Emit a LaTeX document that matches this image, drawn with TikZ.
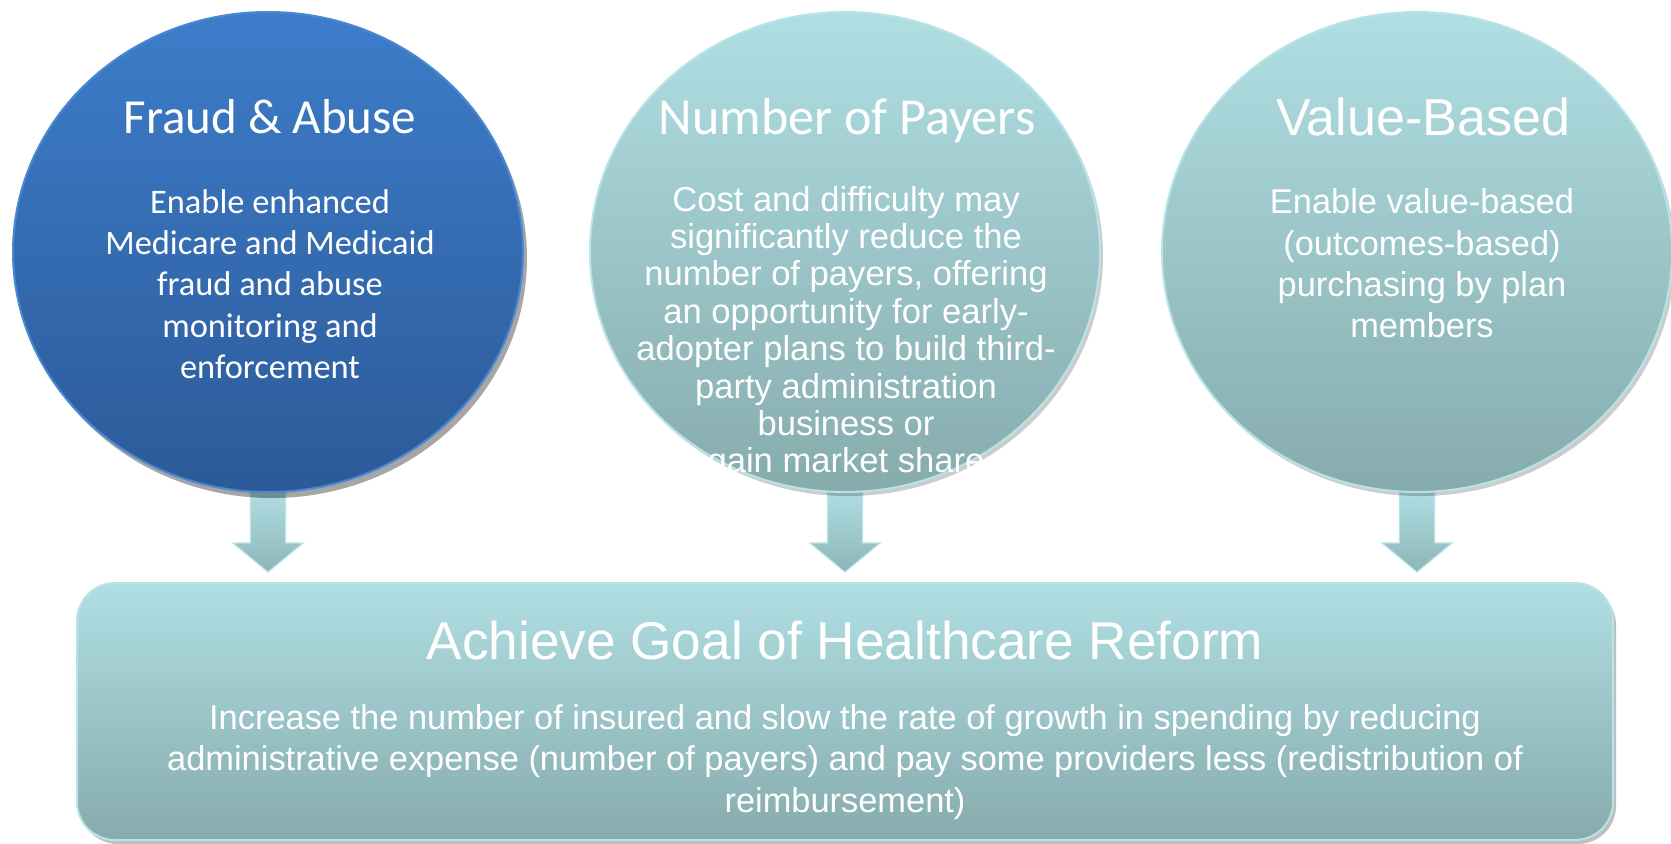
\documentclass[tikz,border=0pt]{standalone}
\usepackage{fontspec}
\setmainfont{Liberation Sans}
\newfontfamily\calfont{Carlito}
\newfontfamily\arfont{Liberation Sans}
\usetikzlibrary{shapes.geometric,shadows,calc,backgrounds}
\definecolor{blueTop}{HTML}{3D7DCA}
\definecolor{blueBot}{HTML}{2C5A98}
\definecolor{blueRim}{HTML}{4A88D2}
\definecolor{cyTop}{HTML}{B0DFE3}
\definecolor{cyBot}{HTML}{86ABAD}
\definecolor{cyRim}{HTML}{B8E3E7}
\definecolor{arBot}{HTML}{8DB5B8}
\tikzset{
  bubble/.style={ellipse, minimum width=255pt, minimum height=240pt, inner sep=0pt, line width=1pt},
  bluebubble/.style={bubble, top color=blueTop, bottom color=blueBot, draw=blueRim,
    drop shadow={shadow xshift=2pt, shadow yshift=-3pt, opacity=.35, fill=black}},
  tealbubble/.style={bubble, top color=cyTop, bottom color=cyBot, draw=cyRim,
    drop shadow={shadow xshift=1.5pt, shadow yshift=-2pt, opacity=.2, fill=black}},
  goalbox/.style={rectangle, rounded corners=19pt, minimum width=768pt, minimum height=128.5pt,
    inner sep=0pt, top color=cyTop, bottom color=cyBot, draw=cyRim, line width=1pt,
    drop shadow={shadow xshift=1.5pt, shadow yshift=-2pt, opacity=.25, fill=black}},
  blockarrow/.style={top color=cyTop, bottom color=arBot, draw=cyRim, line width=0.6pt},
  txt/.style={text=white, align=center, inner sep=0pt},
  caltitle/.style={txt, font=\calfont\fontsize{24.5}{29}\selectfont},
  caltitlebig/.style={txt, font=\calfont\fontsize{26}{31}\selectfont},
  artitle/.style={txt, font=\arfont\fontsize{26}{31}\selectfont},
  calbody/.style={txt, font=\calfont\fontsize{17.2}{20.7}\selectfont},
  arbody/.style={txt, font=\arfont\fontsize{17.2}{20.7}\selectfont},
  arbodytight/.style={txt, font=\arfont\fontsize{17.3}{18.7}\selectfont},
}
\begin{document}
\begin{tikzpicture}[x=0.5pt,y=-0.5pt]
\useasboundingbox (0,0) rectangle (1671,843);
% circles
\node[bluebubble] (c1) at (268,252) {};
\node[tealbubble] (c2) at (845,252) {};
\node[tealbubble] (c3) at (1417,252) {};
% goal box
\node[goalbox] (box) at (845,711.5) {};
% arrows (behind the circles)
\begin{pgfonlayer}{background}
\foreach \c in {c1,c2,c3}{
  \path[blockarrow]
    ($(\c.south)+(-17.5,-4)$) -- ($(\c.south)+(17.5,-4)$) -- ($(\c.south)+(17.5,50)$)
    -- ($(\c.south)+(35,50)$) -- ($(\c.south |- box.north)+(0,-10)$)
    -- ($(\c.south)+(-35,50)$) -- ($(\c.south)+(-17.5,50)$) -- cycle;
}
\end{pgfonlayer}
% texts
\node[caltitle] (t1) at (270,117) {Fraud \& Abuse};
\node[calbody] (b1) at (270,284) {Enable enhanced\\Medicare and Medicaid\\fraud and abuse\\monitoring and\\enforcement};
\node[caltitlebig] (t2) at (847,121) {Number of Payers};
\node[arbodytight] (b2) at (846,333) {Cost and difficulty may\\significantly reduce the\\number of payers, offering\\an opportunity for early-\\adopter plans to build third-\\party administration\\business or\\gain market share};
\node[artitle] (t3) at (1423,117) {Value-Based};
\node[arbody] (b3) at (1422,263.5) {Enable value-based\\(outcomes-based)\\purchasing by plan\\members};
\node[txt, font=\arfont\fontsize{26.6}{32}\selectfont] (gt) at (845,640) {Achieve Goal of Healthcare Reform};
\node[arbody] (gb) at (845,762) {Increase the number of insured and slow the rate of growth in spending by reducing\\administrative expense (number of payers) and pay some providers less (redistribution of\\reimbursement)};
\end{tikzpicture}
\end{document}
